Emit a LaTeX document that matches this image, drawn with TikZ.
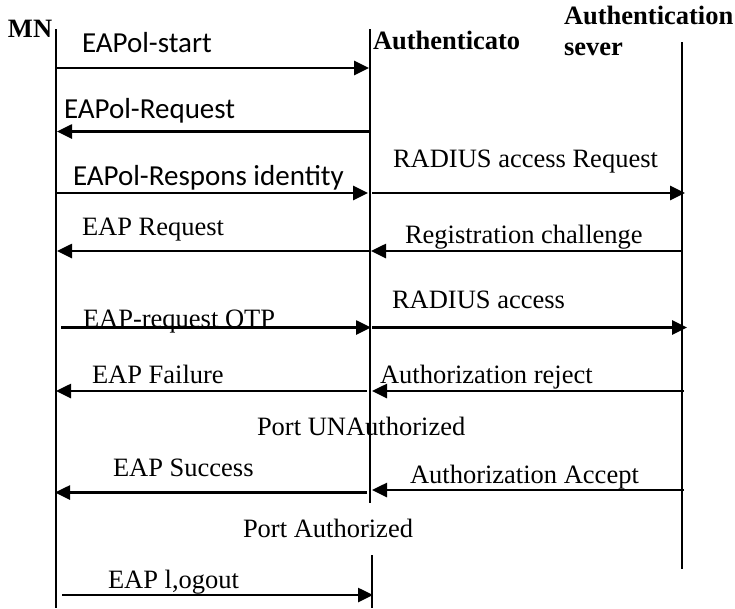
\documentclass[tikz,border=0pt]{standalone}
\usepackage{fontspec}
\setmainfont{Liberation Serif}
\newfontfamily\calib{Carlito}
\usetikzlibrary{arrows.meta}
\tikzset{
  life/.style={line width=1.8pt},
  msg/.style={line width=2.6pt, -{Triangle[length=15pt,width=14pt]}},
  lbl/.style={anchor=base west, inner sep=0pt, outer sep=0pt, font=\fontsize{26.5}{30}\selectfont},
  slbl/.style={anchor=base west, inner sep=0pt, outer sep=0pt, font=\calib\fontsize{29}{33}\selectfont},
  hdr/.style={anchor=base west, inner sep=0pt, outer sep=0pt, font=\bfseries\fontsize{26.5}{30}\selectfont},
}
\begin{document}
\begin{tikzpicture}[x=1pt,y=-1pt]
\useasboundingbox (0,0) rectangle (735,608);
% lifelines
\coordinate (mnT) at (56,29);  \coordinate (mnB) at (56,608);
\coordinate (auT) at (370,29); \coordinate (auM) at (370,503);
\coordinate (auN) at (372,555); \coordinate (auB) at (372,608);
\coordinate (svT) at (682,42); \coordinate (svB) at (682,569);
\draw[life] (mnT) -- (mnB);
\draw[life] (auT) -- (auM);
\draw[life] (auN) -- (auB);
\draw[life] (svT) -- (svB);
% headers
\node[hdr] (hMN) at (8,37) {MN};
\node[hdr] (hAU) at (373,49) {Authenticato};
\node[hdr] (hSV1) at (564,24) {Authentication};
\node[hdr] (hSV2) at (564,55) {sever};
% message endpoints
\coordinate (m1a) at (56,68);    \coordinate (m1b) at (369,68);
\coordinate (m2a) at (369,131.5); \coordinate (m2b) at (57,131.5);
\coordinate (m3a) at (56,193);   \coordinate (m3b) at (368,193);
\coordinate (r3a) at (372,193);  \coordinate (r3b) at (685,193);
\coordinate (m4a) at (371,251);  \coordinate (m4b) at (57,251);
\coordinate (r4a) at (682,251);  \coordinate (r4b) at (371,251);
\coordinate (m5a) at (61,327.5); \coordinate (m5b) at (371,327.5);
\coordinate (r5a) at (372,327.5); \coordinate (r5b) at (687,327.5);
\coordinate (m6a) at (367,391);  \coordinate (m6b) at (56,391);
\coordinate (r6a) at (684,391);  \coordinate (r6b) at (372,391);
\coordinate (m8a) at (367,492.5); \coordinate (m8b) at (55,492.5);
\coordinate (r8a) at (684,490);  \coordinate (r8b) at (372,490);
\coordinate (m10a) at (62,595);  \coordinate (m10b) at (373,595);
\draw[msg] (m1a) -- (m1b);
\draw[msg] (m2a) -- (m2b);
\draw[msg] (m3a) -- (m3b);
\draw[msg] (r3a) -- (r3b);
\draw[msg] (m4a) -- (m4b);
\draw[msg] (r4a) -- (r4b);
\draw[msg] (m5a) -- (m5b);
\draw[msg] (r5a) -- (r5b);
\draw[msg] (m6a) -- (m6b);
\draw[msg] (r6a) -- (r6b);
\draw[msg] (m8a) -- (m8b);
\draw[msg] (r8a) -- (r8b);
\draw[msg] (m10a) -- (m10b);
% labels
\node[slbl] (l1) at (82,52) {EAPol-start};
\node[slbl] (l2) at (64,118) {EAPol-Request};
\node[slbl] (l3) at (73,185) {EAPol-Respons identity};
\node[lbl] (l3r) at (393,167) {RADIUS access Request};
\node[lbl] (l4) at (82,235) {EAP Request};
\node[lbl] (l4r) at (405,243) {Registration challenge};
\node[lbl] (l5) at (83,327) {EAP-request OTP};
\node[lbl] (l5r) at (392,308) {RADIUS access};
\node[lbl] (l6) at (92,383) {EAP Failure};
\node[lbl] (l6r) at (380,383) {Authorization reject};
\node[lbl] (l7) at (257,435) {Port UNAuthorized};
\node[lbl] (l8) at (113,476) {EAP Success};
\node[lbl] (l8r) at (410,483) {Authorization Accept};
\node[lbl] (l9) at (243,537) {Port Authorized};
\node[lbl] (l10) at (108,588) {EAP l,ogout};
\end{tikzpicture}
\end{document}
